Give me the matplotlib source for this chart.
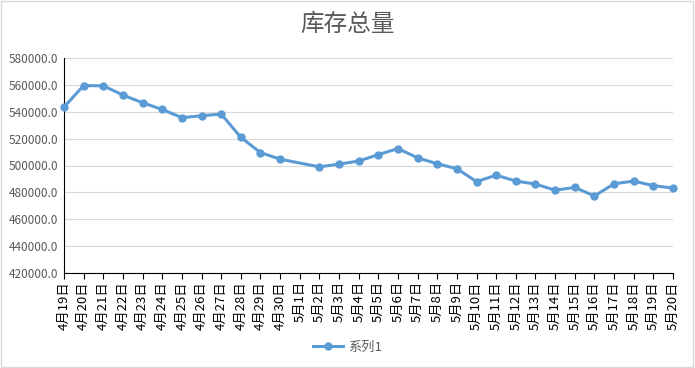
import matplotlib.pyplot as plt
from matplotlib.patches import Rectangle

plt.rcParams['font.family'] = ['Noto Sans CJK SC', 'DejaVu Sans']

dates = ['4月19日', '4月20日', '4月21日', '4月22日', '4月23日', '4月24日', '4月25日', '4月26日',
         '4月27日', '4月28日', '4月29日', '4月30日', '5月1日', '5月2日', '5月3日', '5月4日',
         '5月5日', '5月6日', '5月7日', '5月8日', '5月9日', '5月10日', '5月11日', '5月12日',
         '5月13日', '5月14日', '5月15日', '5月16日', '5月17日', '5月18日', '5月19日', '5月20日']
# 5月1日 has no value
stock = [543500, 559500, 559300, 552400, 546700, 541700, 535600, 537000,
         538300, 521000, 509600, 504700, None, 499000, 501000, 503300,
         508100, 512600, 505700, 501300, 497600, 488000, 492800, 488400,
         486200, 481600, 483700, 477300, 486400, 488400, 485000, 483200]
yticks = [420000, 440000, 460000, 480000, 500000, 520000, 540000, 560000, 580000]

xs = [i for i, v in enumerate(stock) if v is not None]
ys = [v for v in stock if v is not None]

fig = plt.figure(figsize=(6.95, 3.68), dpi=100)
ax = fig.add_axes([64 / 695, 1 - 273 / 368, (673 - 64) / 695, (273 - 58) / 368])

blue = '#5B9BD5'
grey = '#595959'
ax.plot(xs, ys, color=blue, lw=2.2, marker='o', ms=5, label='系列1', clip_on=False, zorder=3)

ax.set_xlim(0, len(dates) - 1)
ax.set_ylim(420000, 580000)
ax.set_yticks(yticks)
ax.set_yticklabels(['%.1f' % v for v in yticks])
ax.set_xticks(range(len(dates)))
ax.set_xticklabels(dates, rotation=90)

ax.grid(axis='y', color='#d9d9d9', lw=0.8)
ax.set_axisbelow(True)
for s in ['top', 'right']:
    ax.spines[s].set_visible(False)
ax.spines['left'].set_color('black')
ax.spines['bottom'].set_color('black')
ax.tick_params(axis='y', length=0, labelsize=8.5, labelcolor=grey, pad=4)
ax.tick_params(axis='x', length=4, direction='out', labelsize=9.5, labelcolor='black', pad=2)

fig.text(0.5, 1 - 24 / 368, '库存总量', ha='center', va='center', fontsize=17, color=grey)

fig.legend(loc='center', bbox_to_anchor=(0.5, 1 - 347 / 368), frameon=False,
           fontsize=9.5, labelcolor=grey, handlelength=2.3, handletextpad=0.4)

fig.patches.append(Rectangle((0.002, 0.003), 0.995, 0.994, transform=fig.transFigure,
                             fill=False, edgecolor='#d9d9d9', lw=1))

fig.savefig('out.png', dpi=100)
